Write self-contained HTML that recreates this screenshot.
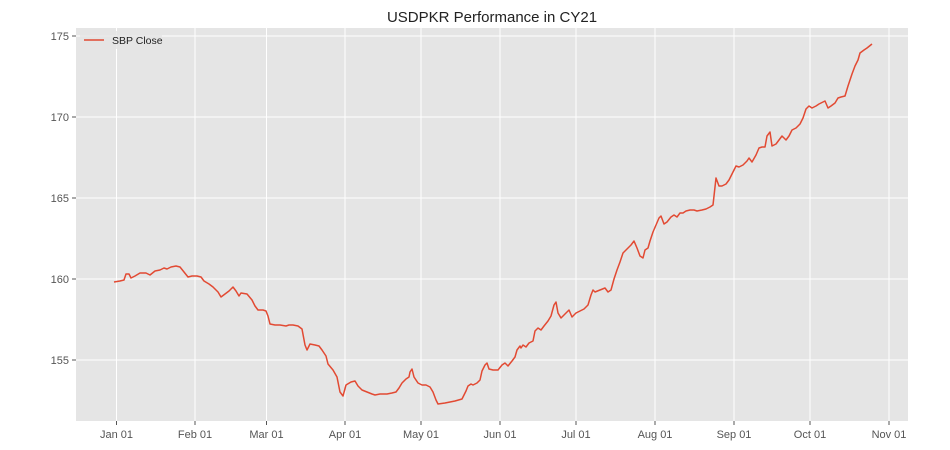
<!DOCTYPE html>
<html><head><meta charset="utf-8"><style>body{margin:0;background:#fff}svg{display:block}text{font-family:"Liberation Sans","DejaVu Sans",sans-serif}</style></head>
<body>
<svg width="950" height="450" viewBox="0 0 950 450">
<rect x="76" y="28" width="832" height="393" fill="#e5e5e5"/>
<g stroke="#fff" stroke-width="1">
<line x1="116.5" y1="28" x2="116.5" y2="421"/><line x1="195" y1="28" x2="195" y2="421"/><line x1="266.5" y1="28" x2="266.5" y2="421"/><line x1="345" y1="28" x2="345" y2="421"/><line x1="421" y1="28" x2="421" y2="421"/><line x1="500" y1="28" x2="500" y2="421"/><line x1="576" y1="28" x2="576" y2="421"/><line x1="655" y1="28" x2="655" y2="421"/><line x1="734" y1="28" x2="734" y2="421"/><line x1="810" y1="28" x2="810" y2="421"/><line x1="889" y1="28" x2="889" y2="421"/>
<line x1="76" y1="36" x2="908" y2="36"/><line x1="76" y1="117" x2="908" y2="117"/><line x1="76" y1="198" x2="908" y2="198"/><line x1="76" y1="279" x2="908" y2="279"/><line x1="76" y1="360" x2="908" y2="360"/>
</g>
<g stroke="#555" stroke-width="1">
<line x1="72" y1="36" x2="76" y2="36"/><line x1="72" y1="117" x2="76" y2="117"/><line x1="72" y1="198" x2="76" y2="198"/><line x1="72" y1="279" x2="76" y2="279"/><line x1="72" y1="360" x2="76" y2="360"/>
<line x1="116.5" y1="421" x2="116.5" y2="425"/><line x1="195" y1="421" x2="195" y2="425"/><line x1="266.5" y1="421" x2="266.5" y2="425"/><line x1="345" y1="421" x2="345" y2="425"/><line x1="421" y1="421" x2="421" y2="425"/><line x1="500" y1="421" x2="500" y2="425"/><line x1="576" y1="421" x2="576" y2="425"/><line x1="655" y1="421" x2="655" y2="425"/><line x1="734" y1="421" x2="734" y2="425"/><line x1="810" y1="421" x2="810" y2="425"/><line x1="889" y1="421" x2="889" y2="425"/>
</g>
<g fill="#555" font-size="11" text-anchor="end">
<text x="69" y="40">175</text><text x="69" y="121">170</text><text x="69" y="202">165</text><text x="69" y="283">160</text><text x="69" y="364">155</text>
</g>
<g fill="#555" font-size="11" text-anchor="middle">
<text x="116.5" y="438">Jan 01</text><text x="195" y="438">Feb 01</text><text x="266.5" y="438">Mar 01</text><text x="345" y="438">Apr 01</text><text x="421" y="438">May 01</text><text x="500" y="438">Jun 01</text><text x="576" y="438">Jul 01</text><text x="655" y="438">Aug 01</text><text x="734" y="438">Sep 01</text><text x="810" y="438">Oct 01</text><text x="889" y="438">Nov 01</text>
</g>
<text x="492" y="22" font-size="15" text-anchor="middle" fill="#222">USDPKR Performance in CY21</text>
<rect x="80" y="31" width="82" height="18" fill="#e5e5e5" opacity="0.8"/>
<line x1="84" y1="40" x2="104" y2="40" stroke="#e24a33" stroke-width="1.5"/>
<text x="112" y="44" font-size="10.5" fill="#222">SBP Close</text>
<polyline fill="none" stroke="#e24a33" stroke-width="1.5" stroke-linejoin="round" points="114,282 120,281 124,280 126,274 129,274 131,278 135,276 140,273 146,273 150,275 155,271 160,270 164,268 167,269 171,267 176,266 180,267 184,272 188,277 192,276 197,276 201,277 204,281 209,284 213,287 216,290 218,292 221,297 225,294 229,291 233,287 236,291 239,296 241,293 247,294 252,300 255,306 258,310 263,310 266,311 268,316 270,324 275,325 280,325 286,326 289,325 293,325 298,326 302,329 305,345 307,350 310,344 315,345 319,346 322,350 326,356 328,364 333,370 337,377 340,392 343,396 346,385 351,382 355,381 358,386 362,390 367,392 372,394 375,395 380,394 387,394 392,393 396,392 399,388 402,383 406,379 409,377 410,372 412,369 414,377 418,383 422,385 426,385 430,387 433,392 436,400 438,404 445,403 455,401 462,399 466,391 468,386 471,384 473,385 477,383 480,380 482,371 485,365 487,363 489,369 493,370 498,370 502,365 505,363 508,366 512,361 515,357 517,350 520,346 521,348 523,345 526,347 529,343 533,341 535,331 538,328 541,330 544,326 548,321 551,316 554,305 556,302 558,313 561,318 565,314 569,310 572,317 576,313 580,311 584,309 588,305 591,295 593,290 595,292 600,290 605,288 608,292 611,290 614,279 617,270 620,262 623,253 627,249 631,245 634,241 637,248 640,256 643,258 645,250 648,248 650,241 653,232 656,225 659,218 661,216 664,224 667,222 671,217 674,215 677,217 680,213 683,213 686,211 690,210 694,210 697,211 702,210 706,209 710,207 713,205 716,178 719,186 722,186 726,184 729,180 733,172 736,166 739,167 743,165 747,161 749,158 752,162 756,155 759,148 762,147 765,147 767,136 770,132 772,146 776,144 779,140 782,136 786,140 789,136 792,130 796,128 800,124 803,118 806,109 809,106 812,108 816,106 819,104 823,102 825,101 828,108 831,106 835,103 838,98 841,97 845,96 848,86 852,74 855,66 858,60 860,53 864,50 867,48 872,44"/>
</svg>
</body></html>
